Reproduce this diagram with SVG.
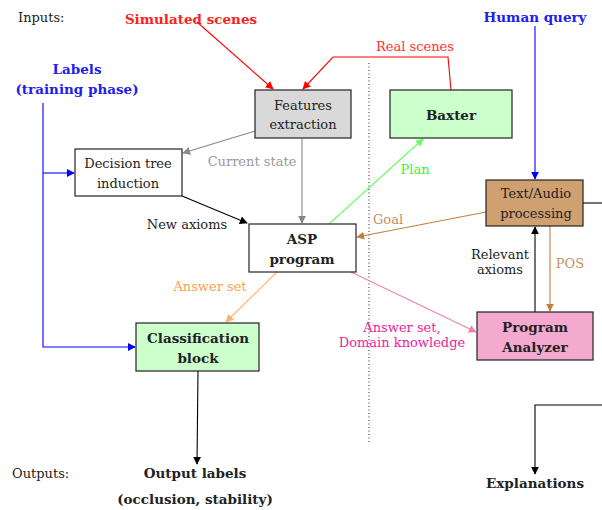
<svg xmlns="http://www.w3.org/2000/svg" width="602" height="510" viewBox="0 0 602 510">
<style>
text{font-family:'DejaVu Serif','Liberation Serif',serif;font-size:13px;fill:#222}
.b{font-weight:bold;font-size:13.5px}
.m{text-anchor:middle}
.box{stroke:#222;stroke-width:1.2}
.ln{fill:none;stroke-width:1.1}
</style>
<defs>
<marker id="ak" viewBox="0 0 10 10" refX="9" refY="5" markerWidth="8" markerHeight="8" orient="auto" markerUnits="userSpaceOnUse"><path d="M0,0L10,5L0,10z" fill="#000"/></marker>
<marker id="ar" viewBox="0 0 10 10" refX="9" refY="5" markerWidth="8" markerHeight="8" orient="auto" markerUnits="userSpaceOnUse"><path d="M0,0L10,5L0,10z" fill="#f00"/></marker>
<marker id="ab" viewBox="0 0 10 10" refX="9" refY="5" markerWidth="8" markerHeight="8" orient="auto" markerUnits="userSpaceOnUse"><path d="M0,0L10,5L0,10z" fill="#00f"/></marker>
<marker id="ag" viewBox="0 0 10 10" refX="9" refY="5" markerWidth="8" markerHeight="8" orient="auto" markerUnits="userSpaceOnUse"><path d="M0,0L10,5L0,10z" fill="#888"/></marker>
<marker id="agr" viewBox="0 0 10 10" refX="9" refY="5" markerWidth="8" markerHeight="8" orient="auto" markerUnits="userSpaceOnUse"><path d="M0,0L10,5L0,10z" fill="#66ff66"/></marker>
<marker id="abr" viewBox="0 0 10 10" refX="9" refY="5" markerWidth="8" markerHeight="8" orient="auto" markerUnits="userSpaceOnUse"><path d="M0,0L10,5L0,10z" fill="#c08040"/></marker>
<marker id="aor" viewBox="0 0 10 10" refX="9" refY="5" markerWidth="8" markerHeight="8" orient="auto" markerUnits="userSpaceOnUse"><path d="M0,0L10,5L0,10z" fill="#ffb070"/></marker>
<marker id="apk" viewBox="0 0 10 10" refX="9" refY="5" markerWidth="8" markerHeight="8" orient="auto" markerUnits="userSpaceOnUse"><path d="M0,0L10,5L0,10z" fill="#f080b0"/></marker>
</defs>

<g id="labels">
<text x="18" y="22">Inputs:</text>
<text x="191" y="24" class="b m" style="fill:#ff2020">Simulated scenes</text>
<text x="535" y="22" class="b m" style="fill:#2020ee">Human query</text>
<text x="77" y="74" class="b m" style="fill:#2020ee">Labels</text>
<text x="77" y="94" class="b m" style="fill:#2020ee">(training phase)</text>
<text x="12" y="478">Outputs:</text>
<text x="195" y="478" class="b m">Output labels</text>
<text x="195" y="504" class="b m">(occlusion, stability)</text>
<text x="535" y="488" class="b m">Explanations</text>
</g>

<line x1="369" y1="63" x2="369" y2="442" stroke="#222" stroke-width="1" stroke-dasharray="1,2.5"/>

<g id="connectors">
<path class="ln" d="M197,22L273,89" stroke="#f00" marker-end="url(#ar)"/>
<path class="ln" d="M451,90L448,57L333,57L303,89" stroke="#f00" marker-end="url(#ar)"/>
<text x="415" y="51" class="m" style="fill:#ff3030">Real scenes</text>
<path class="ln" d="M535,26V179" stroke="#00f" marker-end="url(#ab)"/>
<path class="ln" d="M43,103V347H135" stroke="#00f" marker-end="url(#ab)"/>
<path class="ln" d="M43,173H74" stroke="#00f" marker-end="url(#ab)"/>
<path class="ln" d="M255,131L183,153" stroke="#888" marker-end="url(#ag)"/>
<text x="252" y="166" class="m" style="fill:#999">Current state</text>
<path class="ln" d="M302,139V223" stroke="#888" marker-end="url(#ag)"/>
<path class="ln" d="M182,196L247,223" stroke="#000" marker-end="url(#ak)"/>
<text x="187" y="229" class="m">New axioms</text>
<path class="ln" d="M329,224L423,139" stroke="#66ff66" marker-end="url(#agr)"/>
<text x="415" y="174" class="m" style="fill:#44ee44">Plan</text>
<path class="ln" d="M486,212L357,237" stroke="#c08040" marker-end="url(#abr)"/>
<text x="388" y="224" class="m" style="fill:#c09060">Goal</text>
<path class="ln" d="M277,272L226,322" stroke="#ffb070" marker-end="url(#aor)"/>
<text x="210" y="291" class="m" style="fill:#ffa050">Answer set</text>
<path class="ln" d="M351,272L476,332" stroke="#f080b0" marker-end="url(#apk)"/>
<text x="402" y="332" class="m" style="fill:#ee2299">Answer set,</text>
<text x="402" y="347" class="m" style="fill:#ee2299">Domain knowledge</text>
<path class="ln" d="M535,312V227" stroke="#000" marker-end="url(#ak)"/>
<text x="500" y="259" class="m">Relevant</text>
<text x="500" y="274" class="m">axioms</text>
<path class="ln" d="M550,226V311" stroke="#c08040" marker-end="url(#abr)"/>
<text x="570" y="268" class="m" style="fill:#c09060">POS</text>
<path class="ln" d="M198,371L197,464" stroke="#000" marker-end="url(#ak)"/>
<path class="ln" d="M583,203H602" stroke="#000"/>
<path class="ln" d="M602,405H535V474" stroke="#000" marker-end="url(#ak)"/>
</g>

<g id="features">
<rect class="box" x="255" y="90" width="96" height="48" fill="#d9d9d9"/>
<text x="303" y="110" class="m">Features</text>
<text x="303" y="129" class="m">extraction</text>
</g>
<g id="baxter">
<rect class="box" x="390" y="90" width="122" height="48" fill="#ccffcc"/>
<text x="451" y="120" class="b m">Baxter</text>
</g>
<g id="decision">
<rect class="box" x="75" y="149" width="107" height="47" fill="#fff"/>
<text x="128" y="168" class="m">Decision tree</text>
<text x="128" y="188" class="m">induction</text>
</g>
<g id="asp">
<rect class="box" x="249" y="224" width="107" height="48" fill="#fff"/>
<text x="302" y="244" class="b m">ASP</text>
<text x="302" y="264" class="b m">program</text>
</g>
<g id="classification">
<rect class="box" x="136" y="323" width="123" height="48" fill="#ccffcc"/>
<text x="198" y="343" class="b m">Classification</text>
<text x="198" y="363" class="b m">block</text>
</g>
<g id="textaudio">
<rect class="box" x="486" y="180" width="97" height="46" fill="#cfa070"/>
<text x="536" y="198" class="m">Text/Audio</text>
<text x="536" y="218" class="m">processing</text>
</g>
<g id="analyzer">
<rect class="box" x="477" y="312" width="116" height="48" fill="#f4a9cf"/>
<text x="535" y="332" class="b m">Program</text>
<text x="535" y="352" class="b m">Analyzer</text>
</g>
</svg>
